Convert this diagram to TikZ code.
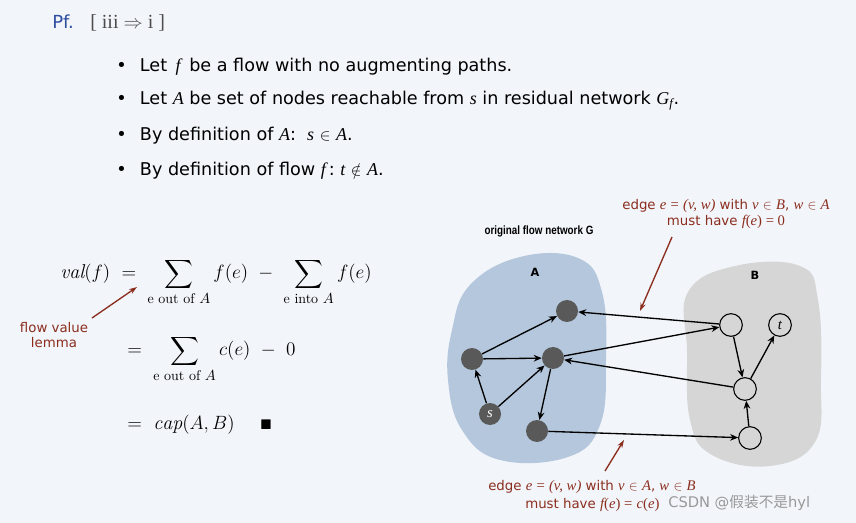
\documentclass[tikz,border=0pt]{standalone}
\usepackage{amsmath,amssymb}
\usepackage{fontspec}
\newfontfamily\sans{DejaVu Sans}
\newfontfamily\tms{Liberation Serif}
\newfontfamily\cond{Liberation Sans}[FakeStretch=0.82]
\newfontfamily\cjk{Noto Sans CJK SC}
\usetikzlibrary{arrows.meta}
\definecolor{bg}{HTML}{F2F5FA}
\definecolor{blobA}{HTML}{B4C7DC}
\definecolor{blobB}{HTML}{D6D6D6}
\definecolor{rd}{HTML}{8B2E1E}
\definecolor{pfblue}{HTML}{2F4F9F}
\definecolor{fillN}{HTML}{595959}
\newcommand{\ti}[1]{{\tms\itshape\fontsize{13.5}{14}\selectfont #1}}
\newcommand{\li}[1]{{\tms\itshape\fontsize{11}{12}\selectfont #1}}
\begin{document}
\begin{tikzpicture}[x=0.75pt,y=-0.75pt,
  full/.style={circle,fill=fillN,minimum size=16.5pt,inner sep=0pt},
  empty/.style={circle,draw=black,fill=none,line width=0.8pt,minimum size=17pt,inner sep=0pt},
  e/.style={-{Stealth[length=6pt,width=5pt]},line width=1pt},
  redarr/.style={-{Stealth[length=6pt,width=4pt]},draw=rd,line width=1pt},
  txt/.style={font=\sans\fontsize{13.2}{14}\selectfont,anchor=west,inner sep=0pt},
  lab/.style={font=\sans\fontsize{10}{11}\selectfont,text=rd,inner sep=0pt}]
\fill[bg] (0,0) rectangle (856,523);
\useasboundingbox (0,0) rectangle (856,523);
% left text
\node[anchor=west,inner sep=0pt,text=pfblue,font=\sans\fontsize{13.5}{14}\selectfont] (pf) at (52,22) {Pf.};
\node[anchor=west,inner sep=0pt,text=black!70,font=\tms\fontsize{15}{16}\selectfont] (iii) at (90,23) {[ iii $\Rightarrow$ i ]};
\node[txt] (b1t) at (116,67) {•\hspace{10pt}Let \,\ti{f}\, be a flow with no augmenting paths.};
\node[txt] (b2t) at (116,101) {•\hspace{10pt}Let \ti{A} be set of nodes reachable from \ti{s} in residual network \ti{G\textsubscript{f}}.};
\node[txt] (b3t) at (116,136) {•\hspace{10pt}By definition of \ti{A}:\ \ \ti{s} {\tms$\in$} \ti{A}.};
\node[txt] (b4t) at (116,171) {•\hspace{10pt}By definition of flow \ti{f}\,:\ \ti{t} {\tms$\notin$} \ti{A}.};
% equations
\node[anchor=base west,inner sep=0pt,font=\fontsize{15}{17}\selectfont] (eq1) at (60,279) {$\displaystyle \mathit{val}(f)\ =\ \sum_{\text{e out of }A} f(e)\ -\ \sum_{\text{e into }A} f(e)$};
\node[anchor=base west,inner sep=0pt,font=\fontsize{15}{17}\selectfont] (eq2) at (127,356) {$\displaystyle =\ \sum_{\text{e out of }A} c(e)\ -\ 0$};
\node[anchor=base west,inner sep=0pt,font=\fontsize{15}{17}\selectfont] (eq3) at (127,430) {$=\ \mathit{cap}(A,B)\quad\ {\scriptstyle\blacksquare}$};
\node[lab,align=center] (fvl) at (54,335) {flow value\\lemma};
\coordinate (fvlS) at (92,318);
\coordinate (fvlE) at (137,287);
\draw[redarr] (fvlS) -- (fvlE);
% blobs
\fill[blobA] plot[smooth cycle,tension=0.7] coordinates {(452,330) (470,285) (520,257) (578,258) (602,292) (606,360) (600,425) (568,457) (500,460) (462,430) (448,380)};
\fill[blobB] plot[smooth cycle,tension=0.7] coordinates {(688,292) (735,266) (800,266) (818,300) (821,380) (815,442) (770,466) (712,455) (690,420) (687,350)};
\node[font=\cond\bfseries\fontsize{9}{10}\selectfont,inner sep=0pt] (og) at (539,231) {original flow network G};
\node[font=\sans\bfseries\fontsize{8.5}{10}\selectfont,inner sep=0pt] (lA) at (535,272) {A};
\node[font=\sans\bfseries\fontsize{8.5}{10}\selectfont,inner sep=0pt] (lB) at (755,275) {B};
% nodes
\node[full] (a1) at (567,311) {};
\node[full] (a2) at (472,359) {};
\node[full] (a3) at (553,358) {};
\node[full,text=white,font=\tms\itshape\fontsize{11}{11}\selectfont] (s) at (490,414) {s};
\node[full] (a4) at (537,431) {};
\node[empty] (b1) at (731,325) {};
\node[empty,font=\tms\itshape\fontsize{11}{11}\selectfont] (t) at (780,325) {t};
\node[empty] (b2) at (745,389) {};
\node[empty] (b3) at (750,438) {};
\draw[e] (a2) -- (a1);
\draw[e] (a2) -- (a3);
\draw[e] (s) -- (a2);
\draw[e] (s) -- (a3);
\draw[e] (a3) -- (a4);
\draw[e] (b1) -- (a1);
\draw[e] (a3) -- (b1);
\draw[e] (b2) -- (a3);
\draw[e] (a4) -- (b3);
\draw[e] (b1) -- (b2);
\draw[e] (b2) -- (t);
\draw[e] (b3) -- (b2);
% red labels
\node[lab,align=center] (top) at (726,214) {edge \li{e} {\tms\fontsize{11}{12}\selectfont=} \li{(v, w)} with \li{v} {\tms$\in$} \li{B}, \li{w} {\tms$\in$} \li{A}\\[1pt]must have \li{f}{\tms\fontsize{11}{12}\selectfont(}\li{e}{\tms\fontsize{11}{12}\selectfont) = 0}};
\coordinate (tS) at (672,237);
\coordinate (tE) at (640,311);
\draw[redarr] (tS) -- (tE);
\node[lab,anchor=west] (bot1) at (488,487) {edge \li{e} {\tms\fontsize{11}{12}\selectfont=} \li{(v, w)} with \li{v} {\tms$\in$} \li{A}, \li{w} {\tms$\in$} \li{B}};
\node[lab,anchor=west] (bot2) at (525,505) {must have \li{f}{\tms\fontsize{11}{12}\selectfont(}\li{e}{\tms\fontsize{11}{12}\selectfont) =} \li{c}{\tms\fontsize{11}{12}\selectfont(}\li{e}{\tms\fontsize{11}{12}\selectfont)}};
\node[anchor=west,inner sep=0pt,text=black!40,font=\sans\fontsize{11}{12}\selectfont] (wm) at (668,503) {CSDN @{\cjk 假装不是}hyl};
\coordinate (bS) at (605,471);
\coordinate (bE) at (624,440);
\draw[redarr] (bS) -- (bE);
\end{tikzpicture}
\end{document}
